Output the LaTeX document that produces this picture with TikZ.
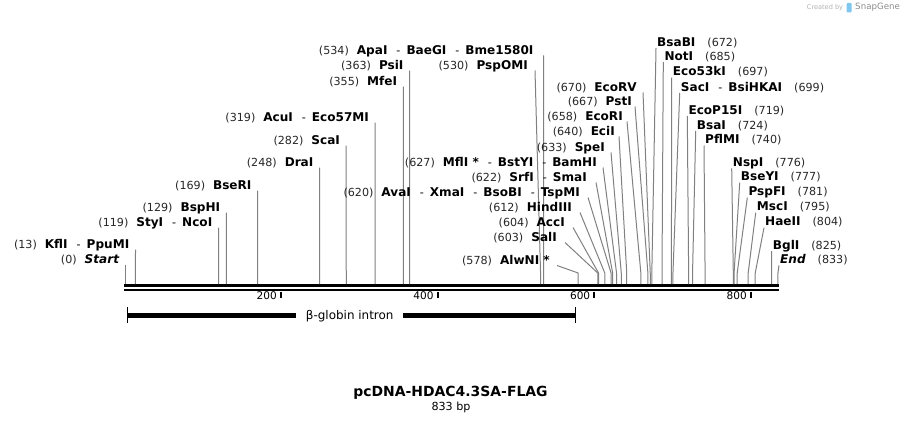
\documentclass[tikz,border=0pt]{standalone}
\usepackage{fontspec}
\setmainfont{DejaVu Sans}
\usetikzlibrary{calc}
\newlength\px
\setlength\px{0.03cm}
\newcommand\enz[1]{{\fontsize{10.3pt}{12pt}\selectfont\bfseries #1}}
\newcommand\cutpos[1]{{\color{black!85}#1}}
\newcommand\gapl{\hspace{8\px}}
\newcommand\gapr{\hspace{12\px}}
\newcommand\dash{\hspace{9\px}-\hspace{6\px}}
\definecolor{cutgrey}{gray}{0.5}
\definecolor{sgblue}{rgb}{0.5, 0.78, 0.94}
\tikzset{lbl/.style = {inner sep=0, text height=7.3pt, text depth=0pt,
                       font=\fontsize{9.5pt}{11pt}\selectfont}}
\tikzset{cut/.style = {draw=cutgrey, line width=1\px}}
\tikzset{bone/.style = {line width=2.5\px}}
\tikzset{ticklbl/.style = {inner sep=0, text height=6.5pt, text depth=0pt,
                           font=\fontsize{9pt}{10pt}\selectfont}}

\begin{document}
\begin{tikzpicture}[x=0.03cm, y=-0.03cm]
  \useasboundingbox (0,0) rectangle (904,423);
  % backbone
  \coordinate (bb0) at (124,285.3);
  \coordinate (bb1) at (779,285.3);
  \draw[bone] (bb0) -- (bb1);
  \draw[bone] ([yshift=-4.5\px]bb0) -- ([yshift=-4.5\px]bb1);
  \foreach \t in {200,400,600,800}{
    \pgfmathsetmacro\tx{125.3+0.7835*\t-1}
    \draw[line width=2\px] (\tx,291.5) -- (\tx,297.5);
    \node[ticklbl, anchor=east] (t\t) at (\tx-4,296) {\t};
  }
  % sites, labels on the left
  \foreach \nm/\pos/\ly/\lx/\dx/\txt in {
    startpt/0/259/119.3/6/{\cutpos{(0)}\gapl\enz{\itshape Start}},
    kfli/13/244/129.5/6/{\cutpos{(13)}\gapl\enz{KflI}\dash\enz{PpuMI}},
    styi/119/222/212.5/6/{\cutpos{(119)}\gapl\enz{StyI}\dash\enz{NcoI}},
    bsphi/129/207/220.4/6/{\cutpos{(129)}\gapl\enz{BspHI}},
    bseri/169/185/251.7/6/{\cutpos{(169)}\gapl\enz{BseRI}},
    drai/248/162/313.6/6/{\cutpos{(248)}\gapl\enz{DraI}},
    scai/282/140/340.2/6/{\cutpos{(282)}\gapl\enz{ScaI}},
    acui/319/117/369.2/6/{\cutpos{(319)}\gapl\enz{AcuI}\dash\enz{Eco57MI}},
    mfei/355/81/397.4/6/{\cutpos{(355)}\gapl\enz{MfeI}},
    psii/363/65/403.7/6/{\cutpos{(363)}\gapl\enz{PsiI}},
    apai/534/50/533.7/10/{\cutpos{(534)}\gapl\enz{ApaI}\dash\enz{BaeGI}\dash\enz{Bme1580I}},
    pspomi/530/65/528/7/{\cutpos{(530)}\gapl\enz{PspOMI}},
    alwni/578/260/550/7/{\cutpos{(578)}\gapl\enz{AlwNI *}},
    sali/603/237/557/8/{\cutpos{(603)}\gapl\enz{SalI}},
    acci/604/222/565/8/{\cutpos{(604)}\gapl\enz{AccI}},
    hindiii/612/207/572/8/{\cutpos{(612)}\gapl\enz{HindIII}},
    avai/620/192/580/8/{\cutpos{(620)}\gapl\enz{AvaI}\dash\enz{XmaI}\dash\enz{BsoBI}\dash\enz{TspMI}},
    srfi/622/177/587/9/{\cutpos{(622)}\gapl\enz{SrfI}\dash\enz{SmaI}},
    mfli/627/162/597/6/{\cutpos{(627)}\gapl\enz{MflI *}\dash\enz{BstYI}\dash\enz{BamHI}},
    spei/633/147/605/6/{\cutpos{(633)}\gapl\enz{SpeI}},
    ecii/640/131/615/4/{\cutpos{(640)}\gapl\enz{EciI}},
    ecori/658/116/623/4/{\cutpos{(658)}\gapl\enz{EcoRI}},
    psti/667/101/632/3/{\cutpos{(667)}\gapl\enz{PstI}},
    ecorv/670/87/637/6/{\cutpos{(670)}\gapl\enz{EcoRV}}}{
    \pgfmathsetmacro\sx{125.3+0.7835*\pos}
    \node[lbl, anchor=east] (\nm) at (\lx,\ly) {\txt};
    \coordinate (\nm-k) at (\sx,273);
    \coordinate (\nm-s) at (\sx,284);
    \draw[cut] ([shift={(\dx,5.5)}]\nm.east) -- (\nm-k) -- (\nm-s);
  }
  % sites, labels on the right
  \foreach \nm/\pos/\ly/\lx/\txt in {
    bsabi/672/42/657/{\enz{BsaBI}\gapr\cutpos{(672)}},
    noti/685/56/664.3/{\enz{NotI}\gapr\cutpos{(685)}},
    eco53ki/697/71.7/672.7/{\enz{Eco53kI}\gapr\cutpos{(697)}},
    saci/699/87/680.7/{\enz{SacI}\dash\enz{BsiHKAI}\gapr\cutpos{(699)}},
    ecop15i/719/110/688.3/{\enz{EcoP15I}\gapr\cutpos{(719)}},
    bsai/724/125/696.7/{\enz{BsaI}\gapr\cutpos{(724)}},
    pflmi/740/139.5/705/{\enz{PflMI}\gapr\cutpos{(740)}},
    nspi/776/162.3/732.7/{\enz{NspI}\gapr\cutpos{(776)}},
    bseyi/777/176.7/740.7/{\enz{BseYI}\gapr\cutpos{(777)}},
    pspfi/781/191.7/748.3/{\enz{PspFI}\gapr\cutpos{(781)}},
    msci/795/206.7/756.7/{\enz{MscI}\gapr\cutpos{(795)}},
    haeii/804/221.7/765/{\enz{HaeII}\gapr\cutpos{(804)}},
    bgli/825/245/772.7/{\enz{BglI}\gapr\cutpos{(825)}},
    endpt/833/259.3/780/{\enz{\itshape End}\gapr\cutpos{(833)}}}{
    \pgfmathsetmacro\sx{125.3+0.7835*\pos}
    \node[lbl, anchor=west] (\nm) at (\lx,\ly) {\txt};
    \coordinate (\nm-k) at (\sx,273);
    \coordinate (\nm-s) at (\sx,284);
    \draw[cut] ([shift={(-1,6)}]\nm.west) -- (\nm-k) -- (\nm-s);
  }
  % feature
  \node[inner ysep=0, inner xsep=9.5\px, text height=7.5pt, text depth=0pt,
        font=\fontsize{10.2pt}{12pt}\selectfont] (intron) at (349.7,315) {β-globin intron};
  \coordinate (intronL) at (127.3,315);
  \coordinate (intronR) at (575.3,315);
  \draw[line width=5\px] (intronL) -- (intron.west);
  \draw[line width=5\px] (intron.east) -- (intronR);
  \draw[line width=1\px] ([yshift=8\px]intronL) -- ([yshift=-8\px]intronL);
  \draw[line width=1\px] ([yshift=8\px]intronR) -- ([yshift=-8\px]intronR);
  % title
  \node[inner sep=0, text height=8.7pt, text depth=0pt,
        font=\fontsize{11.9pt}{14pt}\bfseries] (title) at (450.5,391.7) {pcDNA-HDAC4.3SA-FLAG};
  \node[lbl] (size) at (451,406) {833 bp};
  % watermark
  \node[inner sep=0, anchor=east, text=black!30, font=\fontsize{5.6pt}{6pt}\selectfont]
    (created) at (843.3,7.5) {Created by};
  \fill[sgblue, rounded corners=1\px] (846.7,3) rectangle (851.7,12.5);
  \node[inner sep=0, anchor=west, text=black!45, font=\fontsize{7.4pt}{8pt}\selectfont]
    (snapgene) at (855,7.5) {SnapGene};
\end{tikzpicture}
\end{document}
